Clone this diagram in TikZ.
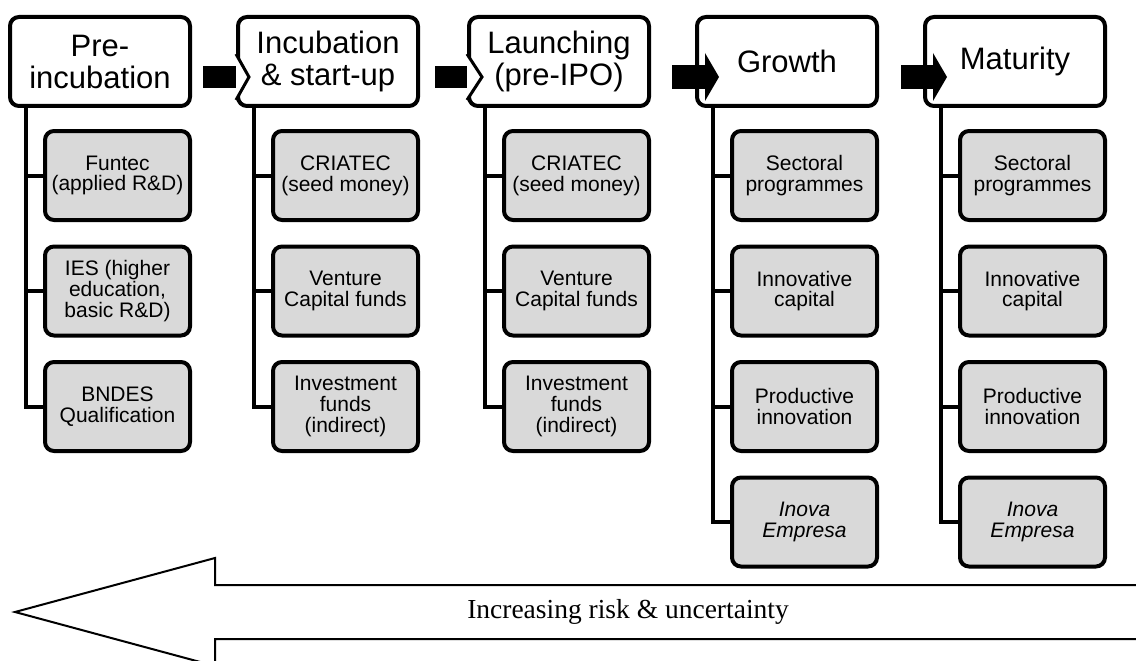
\documentclass[tikz,border=0pt]{standalone}
\usepackage{fontspec}
\setmainfont{Liberation Sans}
\newfontfamily\riskfont{Liberation Serif}
\usetikzlibrary{calc}
\begin{document}
\begin{tikzpicture}[x=1pt,y=-1pt,
  stage/.style={draw=black, line width=4pt, rounded corners=9pt, fill=white,
    minimum width=180pt, minimum height=89pt, inner sep=0pt, align=center,
    font=\fontsize{31}{32}\selectfont},
  fund/.style={draw=black, line width=4pt, rounded corners=9pt, fill=black!15,
    minimum width=145pt, minimum height=89pt, inner sep=0pt, align=center,
    font=\fontsize{21}{20.8}\selectfont},
  fundit/.style={fund, font=\fontsize{21}{20.8}\selectfont\itshape},
  link/.style={line width=4pt},
  shaft/.style={fill=black},
  headblack/.style={fill=black},
  headwhite/.style={fill=white},
  headedge/.style={draw=black, line width=3pt, line join=miter},
  bigarrow/.style={draw=black, line width=2pt, fill=white, line join=miter},
]
\clip (0,0) rectangle (1136,661);
\fill[white] (0,0) rectangle (1136,661);

% stage headers
\node[stage] (h1) at (100,61.5)  {Pre-\\incubation};
\node[stage] (h2) at (328,61.5)  {Incubation\\\& start-up};
\node[stage] (h3) at (559,61.5)  {Launching\\(pre-IPO)};
\node[stage] (h4) at (787,61.5)  {Growth};
\node[stage] (h5) at (1015,61.5) {Maturity};

% spine coordinates
\coordinate (v1) at (26,0);
\coordinate (v2) at (254,0);
\coordinate (v3) at (485,0);
\coordinate (v4) at (713,0);
\coordinate (v5) at (941,0);

% funds column 1
\node[fund] (f11) at (117.5,175.5) {Funtec\\(applied R\&D)};
\node[fund] (f12) at (117.5,291)   {IES (higher\\education,\\basic R\&D)};
\node[fund] (f13) at (117.5,406.5) {BNDES\\Qualification};
% column 2
\node[fund] (f21) at (345.5,175.5) {CRIATEC\\(seed money)};
\node[fund] (f22) at (345.5,291)   {Venture\\Capital funds};
\node[fund] (f23) at (345.5,406.5) {Investment\\funds\\(indirect)};
% column 3
\node[fund] (f31) at (576.5,175.5) {CRIATEC\\(seed money)};
\node[fund] (f32) at (576.5,291)   {Venture\\Capital funds};
\node[fund] (f33) at (576.5,406.5) {Investment\\funds\\(indirect)};
% column 4
\node[fund] (f41) at (804.5,175.5) {Sectoral\\programmes};
\node[fund] (f42) at (804.5,291)   {Innovative\\capital};
\node[fund] (f43) at (804.5,406.5) {Productive\\innovation};
\node[fundit] (f44) at (804.5,522)   {Inova\\Empresa};
% column 5
\node[fund] (f51) at (1032.5,175.5) {Sectoral\\programmes};
\node[fund] (f52) at (1032.5,291)   {Innovative\\capital};
\node[fund] (f53) at (1032.5,406.5) {Productive\\innovation};
\node[fundit] (f54) at (1032.5,522)   {Inova\\Empresa};

% connectors
\draw[link] (h1.south -| v1) |- (f13.west);
\draw[link] (f11.west -| v1) -- (f11.west);
\draw[link] (f12.west -| v1) -- (f12.west);

\draw[link] (h2.south -| v2) |- (f23.west);
\draw[link] (f21.west -| v2) -- (f21.west);
\draw[link] (f22.west -| v2) -- (f22.west);

\draw[link] (h3.south -| v3) |- (f33.west);
\draw[link] (f31.west -| v3) -- (f31.west);
\draw[link] (f32.west -| v3) -- (f32.west);

\draw[link] (h4.south -| v4) |- (f44.west);
\draw[link] (f41.west -| v4) -- (f41.west);
\draw[link] (f42.west -| v4) -- (f42.west);
\draw[link] (f43.west -| v4) -- (f43.west);

\draw[link] (h5.south -| v5) |- (f54.west);
\draw[link] (f51.west -| v5) -- (f51.west);
\draw[link] (f52.west -| v5) -- (f52.west);
\draw[link] (f53.west -| v5) -- (f53.west);

% block arrows between stages
\fill[shaft] (203,66) rectangle (237,88);
\fill[headwhite] (236,54) -- (249,77) -- (236,100) -- cycle;
\draw[headedge] (236,54) -- (249,77) -- (236,100);

\fill[shaft] (435,66) rectangle (468,88);
\fill[headwhite] (467,54) -- (482,77) -- (467,100) -- cycle;
\draw[headedge] (467,54) -- (482,77) -- (467,100);

\fill[shaft] (672,65) rectangle (706,89);
\fill[headblack] (705,53) -- (719,77) -- (705,101) -- cycle;

\fill[shaft] (901,65) rectangle (934,89);
\fill[headblack] (933,53) -- (947,77) -- (933,101) -- cycle;

% big risk arrow
\draw[bigarrow] (15,612) -- (215,558) -- (215,585) -- (1150,585) -- (1150,639)
  -- (215,639) -- (215,666) -- cycle;
\node[font=\riskfont\fontsize{27.5}{30}\selectfont, inner sep=0pt] (risk) at (628,612)
  {Increasing risk \& uncertainty};
\end{tikzpicture}
\end{document}
